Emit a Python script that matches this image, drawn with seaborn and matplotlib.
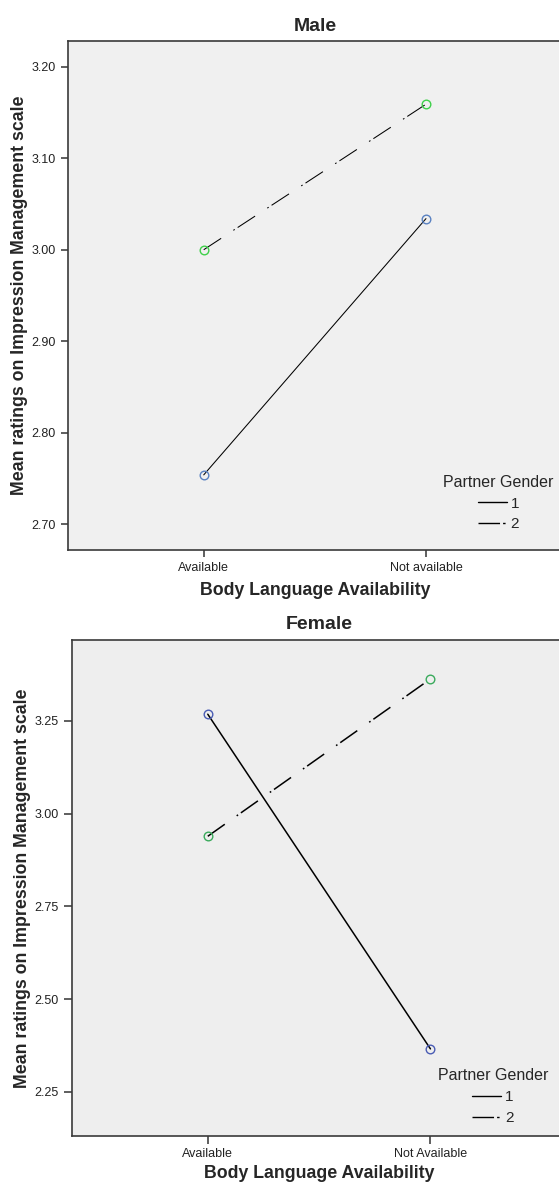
import matplotlib
matplotlib.use("Agg")
import matplotlib.pyplot as plt
from matplotlib.lines import Line2D
import numpy as np
import pandas as pd
import seaborn as sns

# ---- data -------------------------------------------------------------
male_conditions = ["Available", "Not available"]
female_conditions = ["Available", "Not Available"]
partner_genders = ["1", "2"]

male_gender1 = [2.754, 3.034]
male_gender2 = [3.000, 3.159]
female_gender1 = [3.268, 2.366]
female_gender2 = [2.939, 3.363]

male_yticks = [2.70, 2.80, 2.90, 3.00, 3.10, 3.20]
female_yticks = [2.25, 2.50, 2.75, 3.00, 3.25]

# ---- style ------------------------------------------------------------
sns.set_theme(style="ticks")
plt.rcParams["font.family"] = ["Liberation Sans", "DejaVu Sans"]
plt.rcParams["lines.scale_dashes"] = False

W, H, DPI = 559, 1185, 100
fig = plt.figure(figsize=(W / DPI, H / DPI), dpi=DPI)


def px_axes(left, top, right, bottom):
    return fig.add_axes([left / W, 1 - bottom / H, (right - left) / W, (bottom - top) / H])


line_dash = (0, (15, 10.5, 1.2, 2.5))
legend_dash = (0, (15.5, 2.2, 1.8, 20))


def panel(ax, title, conds, g1, g2, yticks, ylim, fmt, colors, bg, lw,
          title_pad, xlabel_pad, tick_len, legend_anchor):
    df = pd.DataFrame({
        "cond": conds * 2,
        "mean": g1 + g2,
        "gender": [partner_genders[0]] * 2 + [partner_genders[1]] * 2,
    })
    ax.set_facecolor(bg)
    styles = {"1": "-", "2": line_dash}
    for g in partner_genders:
        sub = df[df["gender"] == g]
        sns.lineplot(data=sub, x="cond", y="mean", ax=ax, color="black",
                     linestyle=styles[g], linewidth=lw, sort=False,
                     marker="o", markersize=6.2, markerfacecolor="none",
                     markeredgecolor=colors[g], markeredgewidth=1.0,
                     legend=False, errorbar=None)
    ax.set_xlim(-0.612, 1.612)
    ax.set_ylim(*ylim)
    ax.set_yticks(yticks)
    ax.set_yticklabels([fmt.format(v) for v in yticks])
    ax.set_title(title, fontsize=14, fontweight="bold", pad=title_pad)
    ax.set_xlabel("Body Language Availability", fontsize=12.8, fontweight="bold",
                  labelpad=xlabel_pad)
    ax.set_ylabel("Mean ratings on Impression Management scale", fontsize=12.8,
                  fontweight="bold")
    ax.yaxis.set_label_coords(-0.081, 0.5)
    ax.tick_params(axis="both", labelsize=9, length=tick_len, width=1.1, color="#333333",
                   pad=3.5, labelcolor="#222222")
    for s in ax.spines.values():
        s.set_color("#3a3a3a")
        s.set_linewidth(1.2)

    handles = [
        Line2D([], [], color="black", lw=1.0, linestyle="-"),
        Line2D([], [], color="black", lw=1.0, linestyle=legend_dash),
    ]
    ax.legend(handles, partner_genders, title="Partner Gender", frameon=False,
              fontsize=11, title_fontsize=11.5, handlelength=1.9, handletextpad=0.25,
              labelspacing=0.45, loc="lower right", bbox_to_anchor=legend_anchor,
              borderaxespad=0)
    return ax


ax1 = px_axes(67.7, 40.7, 562, 550.3)
panel(ax1, "Male", male_conditions, male_gender1, male_gender2, male_yticks,
      (2.6716, 3.2284), "{:.2f}", {"1": "#5a82c2", "2": "#3fd04a"}, "#f0f0f0", 0.75,
      title_pad=7, xlabel_pad=6, tick_len=5, legend_anchor=(0.995, 0.025))

ax2 = px_axes(71.5, 640, 566.7, 1135.7)
panel(ax2, "Female", female_conditions, female_gender1, female_gender2, female_yticks,
      (2.132, 3.468), "{:.2f}", {"1": "#4a5cb4", "2": "#3aaa5c"}, "#eeeeee", 1.1,
      title_pad=8, xlabel_pad=3.5, tick_len=5.5, legend_anchor=(0.975, 0.009))

fig.savefig("out.png", dpi=DPI)
